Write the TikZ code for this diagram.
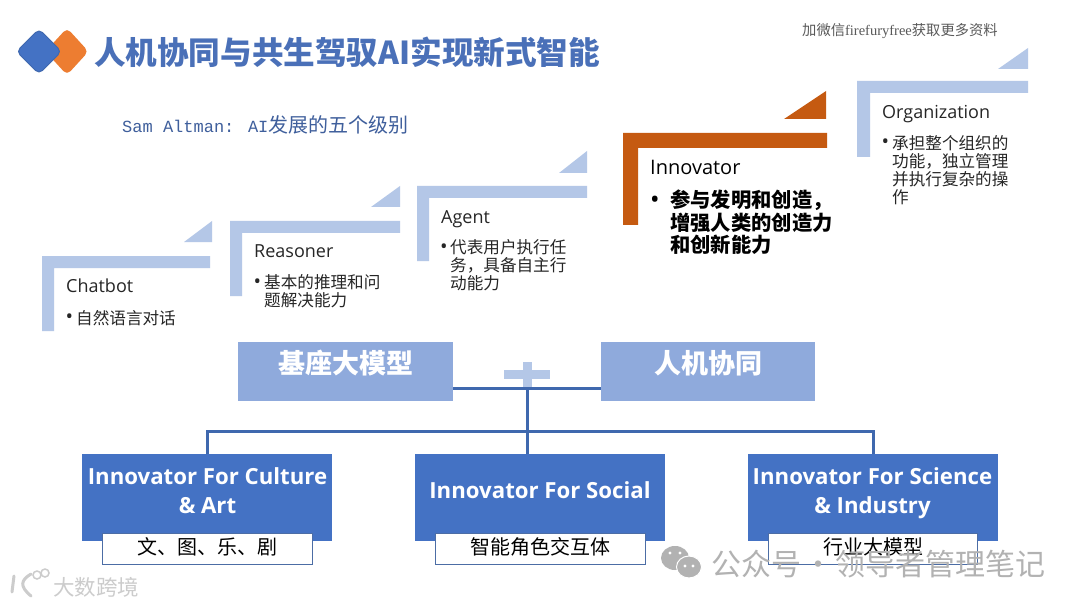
\documentclass[tikz,border=0pt]{standalone}
\usepackage{fontspec}
\setmainfont{Noto Sans CJK SC}
\newfontfamily\cjk{Noto Sans CJK SC}
\newfontfamily\seg{Open Sans}
\newfontfamily\mono{Liberation Mono}
\newfontfamily\ser{Liberation Serif}
\newcommand{\fs}[2]{\fontsize{#1}{#2}\selectfont}
\definecolor{pale}{HTML}{B4C7E7}
\definecolor{rust}{HTML}{C55A11}
\definecolor{midblue}{HTML}{8FAADC}
\definecolor{deepblue}{HTML}{4472C4}
\definecolor{linkblue}{HTML}{3F68AE}
\definecolor{titleblue}{HTML}{4A70B8}
\definecolor{tabby}{HTML}{ED7D31}
\definecolor{wm}{HTML}{B2B2B2}
\tikzset{
  x=1pt,y=-1pt,
  head/.style={anchor=base west,inner sep=0,font=\seg\fs{18}{21},text=black!85},
  body/.style={anchor=north west,inner sep=0,align=left,font=\cjk\fs{16.6}{18.2},text=black!85},
  bul/.style={anchor=center,inner sep=0,font=\seg\fs{20}{18},text=black!85},
  lightbox/.style={fill=midblue,inner sep=0,anchor=north west},
  lighttext/.style={inner sep=0,text=white,font=\cjk\bfseries\fs{27}{30}},
  bigbox/.style={fill=deepblue,inner sep=0,anchor=north west,minimum width=250pt,minimum height=87pt},
  bigtext/.style={inner sep=0,align=center,text=white,font=\seg\bfseries\fs{22.2}{29}},
  subbox/.style={draw=linkblue!80!gray,line width=1pt,fill=white,inner sep=0,anchor=north west,minimum width=210pt,minimum height=31pt,font=\cjk\fs{20}{24},text=black},
  link/.style={draw=linkblue,line width=3pt}
}
\begin{document}
\begin{tikzpicture}
\useasboundingbox (0,0) rectangle (1080,607);
\fill[white] (0,0) rectangle (1080,607);

% logo
\fill[tabby,rounded corners=5pt] (67,28) -- (88.5,51.5) -- (67,75) -- (45.5,51.5) -- cycle;
\draw[fill=deepblue,draw=linkblue,line width=1pt,rounded corners=5pt] (39,29) -- (61.5,51.5) -- (39,74) -- (16.5,51.5) -- cycle;

\node[anchor=west,inner sep=0,text=titleblue,font=\cjk\bfseries\fs{31.6}{34}] (title) at (94,52) {人机协同与共生驾驭AI实现新式智能};
\node[anchor=west,inner sep=0,text=titleblue!85!black] (sam) at (122,125) {\mono\fs{17}{20}Sam Altman: AI\cjk\fs{20}{20}发展的五个级别};
\node[anchor=west,inner sep=0,text=black!65] (note) at (802,31) {\cjk\fs{14.3}{16}加微信\ser\fs{14.5}{16}firefuryfree\cjk\fs{14.3}{16}获取更多资料};

% steps
\fill[pale] (42,256) -- (210,256) -- (210,268) -- (54,268) -- (54,331) -- (42,331) -- cycle;
\fill[pale] (184,242) -- (212,242) -- (212,221) -- cycle;
\node[head] (chatbot) at (66,292) {Chatbot};
\node[bul] (b1) at (69.5,319) {•};
\node[body] (t1) at (76,310) {自然语言对话};

\fill[pale] (230,221) -- (400,221) -- (400,233) -- (242,233) -- (242,296) -- (230,296) -- cycle;
\fill[pale] (371,207) -- (400,207) -- (400,186) -- cycle;
\node[head] (reasoner) at (254,258) {Reasoner};
\node[bul] (b2) at (257.5,283.5) {•};
\node[body] (t2) at (264,274) {基本的推理和问\\题解决能力};

\fill[pale] (417,186) -- (587,186) -- (587,198) -- (429,198) -- (429,261) -- (417,261) -- cycle;
\fill[pale] (559,173) -- (587,173) -- (587,151) -- cycle;
\node[head] (agent) at (441,223) {Agent};
\node[bul] (b3) at (444,248.5) {•};
\node[body] (t3) at (450,239) {代表用户执行任\\务，具备自主行\\动能力};

\fill[rust] (623,133) -- (827,133) -- (827,148) -- (638,148) -- (638,225) -- (623,225) -- cycle;
\fill[rust] (784,119) -- (826,119) -- (826,91) -- cycle;
\node[head,font=\seg\fs{20}{22},text=black] (innov) at (650,175) {Innovator};
\node[bul,font=\seg\bfseries\fs{20}{20},text=black] (b4) at (655,201) {•};
\node[body,font=\cjk\bfseries\fs{20.3}{22.5},text=black] (t4) at (670,190) {参与发明和创造，\\增强人类的创造力\\和创新能力};

\fill[pale] (857,81) -- (1028,81) -- (1028,93) -- (870,93) -- (870,157) -- (857,157) -- cycle;
\fill[pale] (998,69) -- (1028,69) -- (1028,48) -- cycle;
\node[head] (org) at (882,119) {Organization};
\node[bul] (b5) at (885.5,144) {•};
\node[body] (t5) at (892,135) {承担整个组织的\\功能，独立管理\\并执行复杂的操\\作};

% plus sign
\fill[pale] (504,370) rectangle (550,379);
\fill[pale] (522.5,362) rectangle (531.5,388);

% upper boxes
\node[lightbox,minimum width=215pt,minimum height=59pt] (base) at (238,342) {};
\node[lighttext] (basetext) at (345.5,363) {基座大模型};
\node[lightbox,minimum width=214pt,minimum height=59pt] (hm) at (601,342) {};
\node[lighttext] (hmtext) at (708,363) {人机协同};

% lower boxes
\node[bigbox] (culture) at (82,454) {};
\node[bigbox] (social) at (415,454) {};
\node[bigbox] (science) at (748,454) {};
\node[bigtext] (culturetext) at (207.5,490.5) {Innovator For Culture\\\& Art};
\node[bigtext] (socialtext) at (540,490) {Innovator For Social};
\node[bigtext] (sciencetext) at (872.5,493) {Innovator For Science\\\& Industry};
\node[subbox] (culturesub) at (102,533) {\raisebox{6pt}{文、图、乐、剧}};
\node[subbox] (socialsub) at (435,533) {\raisebox{6pt}{智能角色交互体}};
\node[subbox,minimum width=209pt] (sciencesub) at (768,533) {\raisebox{6pt}{行业大模型}};

% connectors
\coordinate (join) at (527,388);
\coordinate (bus) at (527,431);
\draw[link] (base.east |- join) -- (hm.west |- join);
\draw[link] (join) -- (join |- social.north);
\draw[link] (culture.north) |- (bus) -| (science.north);

% watermarks
\fill[wm] (675,558) ellipse (14pt and 12pt);
\fill[wm,draw=white,line width=1pt] (689,567) ellipse (12.5pt and 11pt);
\foreach \px/\py in {670/553,680/553,685/566,693/566}{\fill[white] (\px,\py) circle (1.6pt);}
\node[anchor=west,inner sep=0,text=wm,font=\cjk\fs{30}{32}] (gzh) at (711,564) {公众号\hspace{-4.5pt} · \hspace{-4.5pt}领导者管理笔记};
\draw[gray!40,line width=3pt,line cap=round] (14,576) -- (12,592);
\draw[gray!40,line width=3pt,line cap=round] (31,574) .. controls (21,580) and (19,586) .. (31,596);
\draw[gray!40,line width=1.5pt] (37,575) circle (4pt);
\draw[gray!40,line width=1.5pt] (45,573) circle (4pt);
\node[anchor=west,inner sep=0,text=gray!40,font=\cjk\fs{21.5}{24}] (kj) at (53,587) {大数跨境};
\end{tikzpicture}
\end{document}
